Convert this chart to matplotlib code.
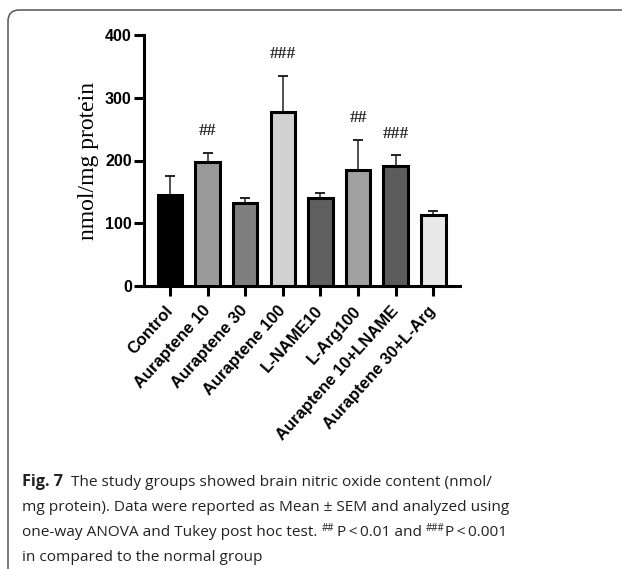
import matplotlib
matplotlib.use("Agg")
import matplotlib.pyplot as plt
from matplotlib.patches import FancyBboxPatch
import numpy as np

categories = ["Control", "Auraptene 10", "Auraptene 30", "Auraptene 100",
              "L-NAME10", "L-Arg100", "Auraptene 10+LNAME", "Auraptene 30+L-Arg"]
means = [145, 197, 133, 278, 141, 185, 192, 113]
sems = [30, 15, 8, 57, 8, 47, 16, 7]
marks = ["", "##", "", "###", "", "##", "###", ""]
colors = ["#000000", "#9a9a9a", "#7f7f7f", "#d2d2d2", "#5f5f5f", "#a0a0a0", "#5c5c5c", "#e8e8e8"]
yticks = [0, 100, 200, 300, 400]

W, H = 622, 569
fig = plt.figure(figsize=(W / 100, H / 100), dpi=100)

# frame with rounded corner
frame = FancyBboxPatch((8 / W, -30 / H), 700 / W, (H - 10 + 30) / H,
                       boxstyle="round,pad=0,rounding_size=0.018",
                       transform=fig.transFigure, fill=False,
                       edgecolor="#555555", linewidth=1.1, mutation_aspect=W / H)
fig.patches.append(frame)

ax = fig.add_axes([144.3 / W, 283 / H, (460 - 144.3) / W, 251 / H])
x = np.arange(len(categories))
ax.bar(x, means, width=0.65, color=colors, edgecolor="black", linewidth=2.2, zorder=3)
ax.errorbar(x, means, yerr=[np.zeros(len(means)), sems], fmt="none",
            ecolor="#222222", elinewidth=1.1, capsize=3.8, capthick=1.4, zorder=2)
for xi, m, s, t in zip(x, means, sems, marks):
    if t:
        ax.text(xi, m + s + 35, t, ha="center", va="center",
                family="Liberation Serif", fontsize=12.5, fontweight="bold", color="#2a2a2a")

ax.set_xlim(-0.683, 7.71)
ax.set_ylim(0, 400)
ax.set_yticks(yticks)
ax.set_yticklabels([str(v) for v in yticks], family="Liberation Sans",
                   fontweight="bold", fontsize=11.5)
ax.set_xticks(x)
ax.set_xticklabels(categories, rotation=48, ha="right", va="center", rotation_mode="anchor",
                   family="Liberation Sans", fontweight="bold", fontsize=12)
for sp in ["top", "right"]:
    ax.spines[sp].set_visible(False)
for sp in ["left", "bottom"]:
    ax.spines[sp].set_linewidth(2.2)
ax.tick_params(axis="both", width=2.2, length=7, direction="out")
ax.tick_params(axis="y", pad=2)
ax.tick_params(axis="x", pad=9)
ax.set_ylabel("nmol/mg protein", family="Liberation Serif", fontsize=17, labelpad=4)

# caption
cap_font = "Open Sans"
cap_size = 11.1
x0 = 22 / W
fig.canvas.draw()
renderer = fig.canvas.get_renderer()

def put(xf, yf, s, **kw):
    t = fig.text(xf, yf, s, family=cap_font, color="#222222", va="baseline", **kw)
    bb = t.get_window_extent(renderer)
    return bb.x1 / W

base = [1 - 486 / H, 1 - 511 / H, 1 - 536 / H, 1 - 561 / H]
xe = put(x0, base[0], "Fig. 7", fontsize=cap_size + 0.6, fontweight="bold")
put(xe + 8 / W, base[0], "The study groups showed brain nitric oxide content (nmol/", fontsize=cap_size)
put(x0, base[1], "mg protein). Data were reported as Mean \u00b1 SEM and analyzed using", fontsize=cap_size)
xe = put(x0, base[2], "one-way ANOVA and Tukey post hoc test. ", fontsize=cap_size)
xe = put(xe, base[2] + 5 / H, "##", fontsize=7)
xe = put(xe + 3 / W, base[2], "P\u2009<\u20090.01 and ", fontsize=cap_size)
xe = put(xe, base[2] + 5 / H, "###", fontsize=7)
put(xe, base[2], "P\u2009<\u20090.001", fontsize=cap_size)
put(x0, base[3], "in compared to the normal group", fontsize=cap_size)

fig.savefig("out.png", dpi=100)
